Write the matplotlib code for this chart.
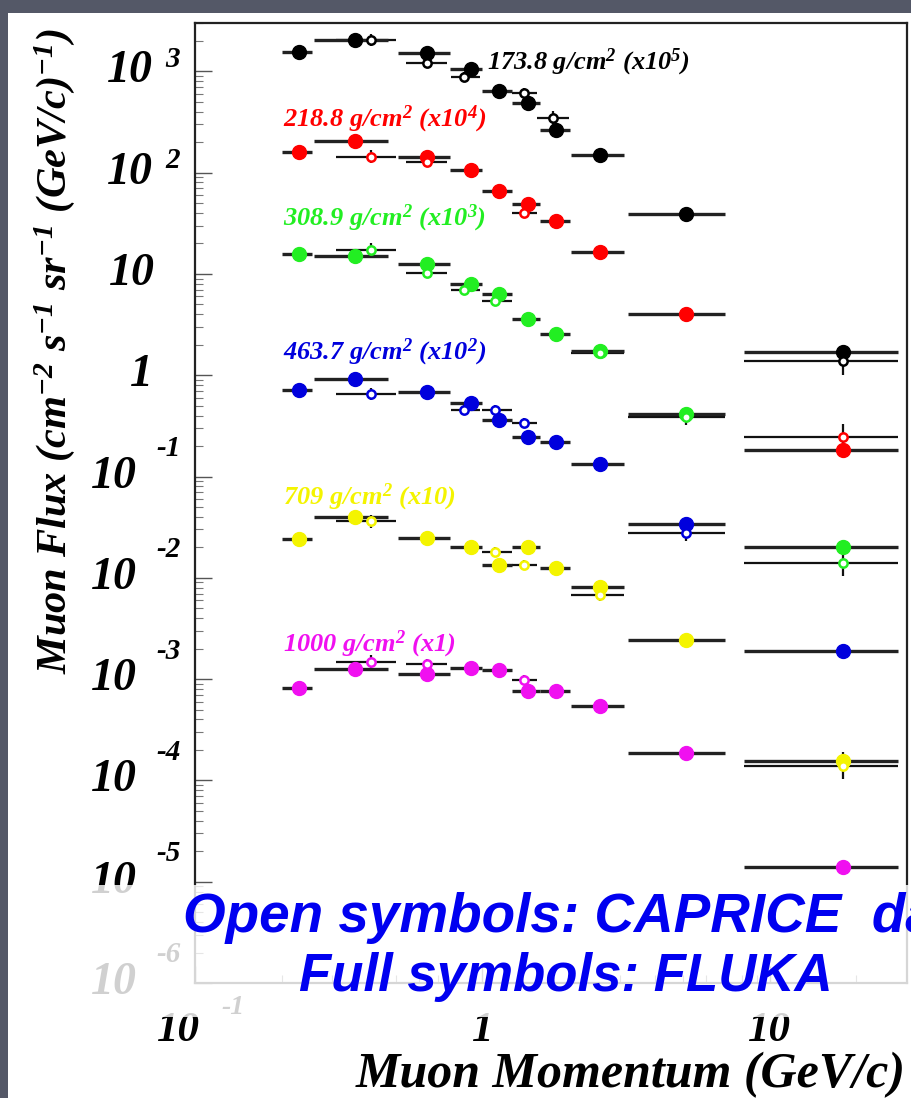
import numpy as np
import matplotlib
matplotlib.use('Agg')
import matplotlib.pyplot as plt
from matplotlib.patches import Rectangle
from matplotlib import transforms

plt.rcParams['mathtext.default'] = 'regular'

W, H, DPI = 912, 1098, 100

# ---------------- data ----------------
# FLUKA momentum bins (GeV/c)
fluka_p = [0.23, 0.36, 0.64, 0.91, 1.14, 1.44, 1.80, 2.57, 5.1, 18.0]
fluka_lo = [0.20, 0.26, 0.51, 0.77, 1.00, 1.27, 1.59, 2.03, 3.2, 8.1]
fluka_hi = [0.255, 0.47, 0.77, 1.00, 1.27, 1.59, 2.02, 3.1, 7.0, 28.0]

# CAPRICE momentum bins (GeV/c)
caprice_p = [0.41, 0.64, 0.86, 1.11, 1.40, 1.76, 2.57, 5.1, 18.0]
caprice_lo = [0.31, 0.54, 0.78, 1.00, 1.27, 1.55, 2.03, 3.2, 8.1]
caprice_hi = [0.50, 0.75, 0.98, 1.27, 1.55, 2.00, 3.1, 7.0, 28.0]

depth_labels = ["173.8", "218.8", "308.9", "463.7", "709", "1000"]
scale_labels = ["x10$^{5}$", "x10$^{4}$", "x10$^{3}$", "x10$^{2}$", "x10", "x1"]
scales = [1e5, 1e4, 1e3, 1e2, 10, 1]
colors = ["#000000", "#ff0000", "#22ee22", "#0000dd", "#f4f400", "#f010f0"]

nan = float('nan')
# FLUKA flux (cm^-2 s^-1 sr^-1 (GeV/c)^-1), unscaled
fluka_173 = [1.56e-2, 2.04e-2, 1.52e-2, 1.06e-2, 6.4e-3, 4.9e-3, 2.65e-3, 1.50e-3, 3.9e-4, 1.7e-5]
fluka_219 = [1.61e-2, 2.07e-2, 1.44e-2, 1.05e-2, 6.6e-3, 4.95e-3, 3.3e-3, 1.63e-3, 4.0e-4, 1.82e-5]
fluka_309 = [1.56e-2, 1.49e-2, 1.24e-2, 7.9e-3, 6.4e-3, 3.56e-3, 2.54e-3, 1.72e-3, 4.1e-4, 2.0e-5]
fluka_464 = [7.1e-3, 9.1e-3, 6.8e-3, 5.3e-3, 3.6e-3, 2.45e-3, 2.2e-3, 1.33e-3, 3.4e-4, 1.9e-5]
fluka_709 = [2.4e-3, 4.0e-3, 2.5e-3, 2.0e-3, 1.34e-3, 2.0e-3, 1.26e-3, 8.1e-4, 2.45e-4, 1.57e-5]
fluka_1000 = [8.1e-4, 1.27e-3, 1.13e-3, 1.30e-3, 1.24e-3, 7.7e-4, 7.7e-4, 5.4e-4, 1.85e-4, 1.39e-5]

# CAPRICE measured flux, unscaled
caprice_173 = [2.04e-2, 1.21e-2, 8.8e-3, nan, 6.1e-3, 3.5e-3, nan, nan, 1.37e-5]
caprice_219 = [1.44e-2, 1.28e-2, nan, nan, 4.0e-3, nan, nan, nan, 2.45e-5]
caprice_309 = [1.74e-2, 1.03e-2, 7.0e-3, 5.4e-3, nan, nan, 1.65e-3, 3.9e-4, 1.4e-5]
caprice_464 = [6.5e-3, nan, 4.5e-3, 4.5e-3, 3.4e-3, nan, nan, 2.8e-4, nan]
caprice_709 = [3.6e-3, nan, nan, 1.8e-3, 1.34e-3, nan, 6.8e-4, nan, 1.4e-5]
caprice_1000 = [1.49e-3, 1.42e-3, nan, nan, 9.9e-4, nan, nan, nan, nan]

# CAPRICE relative errors
caprice_relerr = [0.15, 0.12, 0.12, 0.12, 0.12, 0.15, 0.15, 0.2, 0.35]

fluka_sets = [fluka_173, fluka_219, fluka_309, fluka_464, fluka_709, fluka_1000]
caprice_sets = [caprice_173, caprice_219, caprice_309, caprice_464, caprice_709, caprice_1000]

# ---------------- figure ----------------
fig = plt.figure(figsize=(W / DPI, H / DPI), dpi=DPI, facecolor='#545867')
fig.patches.append(Rectangle((8 / W, 0), 1, 1 - 13 / H, transform=fig.transFigure,
                             facecolor='white', edgecolor='none', zorder=-5))

ax = fig.add_axes([195 / W, 1 - 983 / H, 712 / W, 960 / H])
ax.set_xscale('log')
ax.set_yscale('log')
ax.set_xlim(0.1, 30)
ax.set_ylim(1e-6, 3e3)
for s in ax.spines.values():
    s.set_linewidth(1.6)
    s.set_color('#222222')

fp = np.array(fluka_p)
flo = np.array(fluka_lo)
fhi = np.array(fluka_hi)
cp = np.array(caprice_p)
clo = np.array(caprice_lo)
chi = np.array(caprice_hi)
crel = np.array(caprice_relerr)

for fl, cap, sc, col in zip(fluka_sets, caprice_sets, scales, colors):
    fy = np.array(fl) * sc
    cy = np.array(cap) * sc
    ok = ~np.isnan(cy)
    ax.errorbar(cp[ok], cy[ok], xerr=[cp[ok] - clo[ok], chi[ok] - cp[ok]],
                yerr=[cy[ok] * crel[ok] / (1 + crel[ok]), cy[ok] * crel[ok]],
                fmt='none', ecolor='#111111', elinewidth=1.6, capsize=0, zorder=2)
    ax.hlines(fy, flo, fhi, colors='#222222', linewidth=2.4, zorder=2)
    ax.plot(fp, fy, 'o', color=col, ms=10, mec=col, zorder=3)
    ax.plot(cp[ok], cy[ok], 'o', mfc='white', mec=col, ms=6, mew=1.8, zorder=4)

ax.set_xticks([0.1, 1, 10])
ax.set_yticks([10.0 ** k for k in range(-6, 4)])
ax.set_xticklabels([])
ax.set_yticklabels([])
ax.tick_params(axis='both', which='major', direction='in', length=12, width=1, color='#555555',
               top=False, right=False)
ax.tick_params(axis='both', which='minor', direction='in', length=6, width=0.8, color='#777777',
               top=False, right=False)

tick_font = dict(family='Liberation Serif', weight='bold', style='italic')
ytr = ax.get_yaxis_transform()
for k in range(-6, 4):
    v = 10.0 ** k
    if k == 0:
        ax.text((153 - 195) / 712, v, "1", transform=ytr, ha='right', va='center', fontsize=33, **tick_font)
    elif k == 1:
        ax.text((155 - 195) / 712, v, "10", transform=ytr, ha='right', va='center', fontsize=33, **tick_font)
    elif k > 1:
        ax.text((153 - 195) / 712, v, "10", transform=ytr, ha='right', va='center', fontsize=33, **tick_font)
        tr = ytr + transforms.ScaledTranslation(0, 12 / DPI, fig.dpi_scale_trans)
        ax.text((165 - 195) / 712, v, str(k), transform=tr, ha='left', va='center', fontsize=21, **tick_font)
    else:
        ax.text((137 - 195) / 712, v, "10", transform=ytr, ha='right', va='center', fontsize=33, **tick_font)
        tr = ytr + transforms.ScaledTranslation(0, 28 / DPI, fig.dpi_scale_trans)
        ax.text((156 - 195) / 712, v, str(k), transform=tr, ha='left', va='center', fontsize=21, **tick_font)

xtr = ax.get_xaxis_transform()
ylab = (983 - 1031) / 960
ax.text(0.1, (983 - 1031) / 960, "10", transform=xtr + transforms.ScaledTranslation(-17 / DPI, 0, fig.dpi_scale_trans),
        ha='center', va='center', fontsize=31, **tick_font)
ax.text(0.1, (983 - 1008) / 960, "-1", transform=xtr + transforms.ScaledTranslation(26 / DPI, 0, fig.dpi_scale_trans),
        ha='left', va='center', fontsize=20, **tick_font)
ax.text(1, ylab, "1", transform=xtr, ha='center', va='center', fontsize=31, **tick_font)
ax.text(10, ylab, "10", transform=xtr, ha='center', va='center', fontsize=31, **tick_font)

# series labels
lab_pos = [(487, 62), (283, 119), (283, 218), (283, 352), (283, 497), (283, 644)]
for (px, py), d, s, col in zip(lab_pos, depth_labels, scale_labels, colors):
    ax.text((px - 195) / 712, (983 - py) / 960, d + " g/cm$^{2}$ (" + s + ")", transform=ax.transAxes,
            color=col, ha='left', va='center', fontsize=19, **tick_font)

# axis titles
fig.text(55 / W, 1 - 28 / H, "Muon Flux (cm$^{-2}$ s$^{-1}$ sr$^{-1}$ (GeV/c)$^{-1}$)", rotation=90,
         ha='center', va='top', fontsize=30.5, **tick_font)
fig.text(906 / W, 1 - 1075 / H, "Muon Momentum (GeV/c)", ha='right', va='center', fontsize=36,
         **tick_font)

# overlay note
fig.patches.append(Rectangle((70 / W, 1 - 1017 / H), 1, (1017 - 885) / H, transform=fig.transFigure,
                             facecolor='white', edgecolor='none', alpha=0.82, zorder=5))
note_font = dict(family='Liberation Sans', weight='bold', style='italic', color='#0000f0')
fig.text(183 / W, 1 - 918 / H, "Open symbols: CAPRICE  data", ha='left', va='center', fontsize=39.5,
         zorder=6, **note_font)
fig.text(566 / W, 1 - 977 / H, "Full symbols: FLUKA", ha='center', va='center', fontsize=38,
         zorder=6, **note_font)

fig.savefig('out.png', dpi=DPI, facecolor=fig.get_facecolor())
